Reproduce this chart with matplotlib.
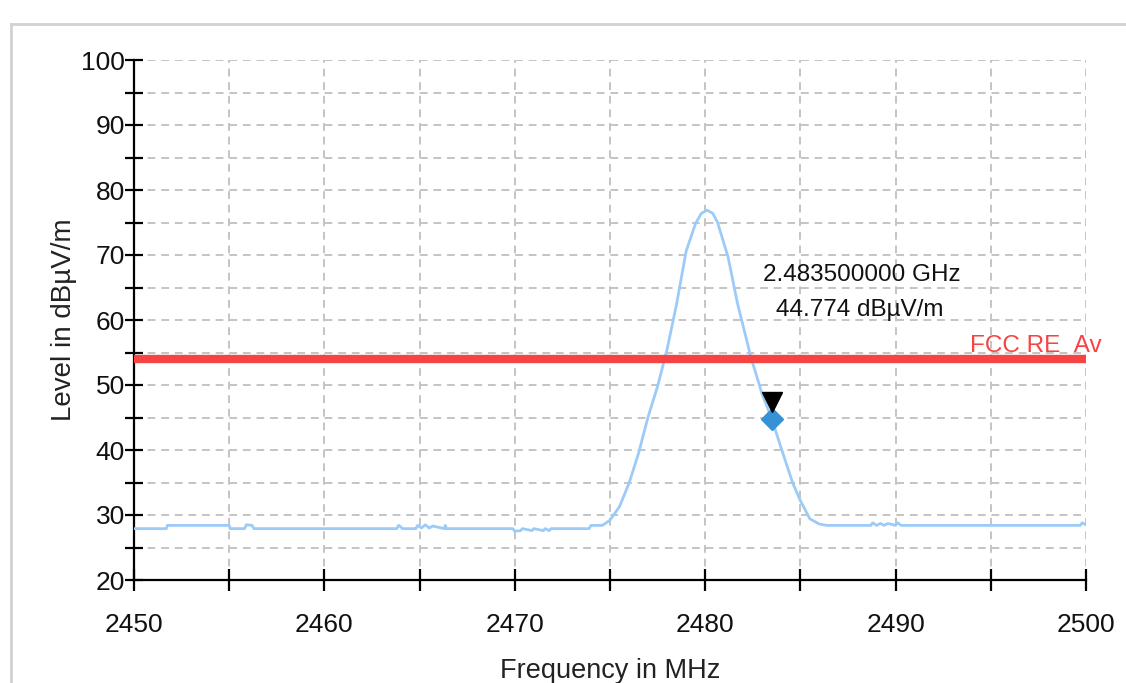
import matplotlib
matplotlib.use("Agg")
import matplotlib.pyplot as plt
from matplotlib.ticker import MultipleLocator
from matplotlib.lines import Line2D
import matplotlib.transforms as mtransforms

plt.rcParams['font.family'] = ['Liberation Sans', 'DejaVu Sans']

# ---- data ----
freq_mhz = [2450.0, 2451.7, 2451.75, 2455.0, 2455.05, 2455.8, 2455.9, 2456.2, 2456.3,
            2463.8, 2463.9, 2464.0, 2464.1, 2464.8, 2464.9, 2465.1, 2465.3, 2465.5,
            2465.7, 2466.3, 2466.35, 2466.4, 2469.9, 2470.0, 2470.3, 2470.4, 2470.9,
            2471.0, 2471.5, 2471.6, 2471.8, 2471.9, 2473.9, 2474.0, 2474.6, 2475.0,
            2475.5, 2476.0, 2476.5, 2477.0, 2477.5, 2478.0, 2478.5, 2479.0, 2479.5,
            2479.8, 2480.1, 2480.4, 2480.65, 2481.2, 2481.7, 2482.4, 2483.0, 2483.5,
            2484.0, 2484.6, 2485.0, 2485.5, 2486.0, 2486.4, 2488.7, 2488.8, 2489.0,
            2489.2, 2489.4, 2489.6, 2490.0, 2490.1, 2490.3, 2499.7, 2499.8, 2500.0]
level_dbuv = [27.9, 27.9, 28.4, 28.4, 27.9, 27.9, 28.5, 28.4, 27.9,
              27.9, 28.4, 28.2, 27.9, 27.9, 28.4, 28.0, 28.5, 28.0,
              28.3, 27.9, 28.4, 27.9, 27.9, 27.5, 27.6, 27.9, 27.6,
              27.9, 27.6, 27.9, 27.6, 27.9, 27.9, 28.4, 28.4, 29.2,
              31.3, 34.9, 39.5, 45.1, 49.8, 55.5, 62.5, 70.6, 74.9,
              76.4, 76.9, 76.4, 75.0, 69.7, 62.5, 54.3, 48.5, 44.774,
              40.2, 34.9, 32.2, 29.4, 28.6, 28.4, 28.4, 28.8, 28.4,
              28.7, 28.4, 28.7, 28.4, 28.8, 28.4, 28.4, 28.8, 28.5]

limit_freq = [2450.0, 2500.0]
limit_level = [54.0, 54.0]
limit_name = "FCC RE_Av"

marker_freq_ghz = 2.4835
marker_level = 44.774

x_major = [2450, 2460, 2470, 2480, 2490, 2500]
y_major = [20, 30, 40, 50, 60, 70, 80, 90, 100]

# ---- figure ----
fig = plt.figure(figsize=(11.26, 6.83), dpi=100)
ax = fig.add_axes([134/1126, 1 - 580/683, (1086 - 134)/1126, (580 - 60)/683])

ax.set_xlim(2450, 2500)
ax.set_ylim(20, 100)
ax.set_xticks(x_major)
ax.set_yticks(y_major)
ax.xaxis.set_minor_locator(MultipleLocator(5))
ax.yaxis.set_minor_locator(MultipleLocator(5))

ax.grid(which='both', color='#c4c4c4', linestyle=(0, (4, 3)), linewidth=1.4)
ax.set_axisbelow(True)

for s in ['top', 'right']:
    ax.spines[s].set_visible(False)
for s in ['left', 'bottom']:
    ax.spines[s].set_linewidth(1.6)
    ax.spines[s].set_color('black')

ax.tick_params(axis='both', which='both', direction='inout', width=1.6, colors='black')
ax.tick_params(axis='y', which='both', length=13)
ax.tick_params(axis='x', which='both', length=16)
ax.tick_params(axis='both', which='major', labelsize=19, labelcolor='#111111')
ax.tick_params(axis='x', which='major', pad=16)
ax.tick_params(axis='y', which='major', pad=0)

# trace
ax.plot(freq_mhz, level_dbuv, color='#9ccbf7', linewidth=2.0, zorder=3)

# limit line
ax.plot(limit_freq, limit_level, color='#f64343', linewidth=6.0, zorder=4,
        solid_capstyle='butt')
ax.text(limit_freq[-1] + 0.8, limit_level[-1] + 1.1, limit_name, color='#f64343',
        fontsize=17.5, ha='right', va='baseline', clip_on=False, zorder=5)

# marker
mf = marker_freq_ghz * 1000
ax.plot([mf], [marker_level], marker='D', markersize=11, color='#3592d6',
        markeredgecolor='#3592d6', zorder=6, clip_on=False)
off = mtransforms.ScaledTranslation(0, 12 / 72, fig.dpi_scale_trans)
ax.plot([mf], [marker_level], marker='v', markersize=15, color='black',
        transform=ax.transData + off, zorder=7, clip_on=False)

ax.text(2488.2, 66.0, f"{marker_freq_ghz:.9f} GHz", fontsize=17.5,
        ha='center', va='baseline', color='#111111', zorder=8)
ax.text(2488.1, 60.6, f"{marker_level:.3f} dBµV/m", fontsize=17.5,
        ha='center', va='baseline', color='#111111', zorder=8)

ax.set_xlabel("Frequency in MHz", fontsize=19.5, color='#222222', labelpad=15)
ax.set_ylabel("Level in dBµV/m", fontsize=20, color='#222222', labelpad=3)

# outer frame
fig.add_artist(Line2D([11/1126, 11/1126], [0, 1 - 24/683], transform=fig.transFigure,
                      color='#d2d2d2', linewidth=2))
fig.add_artist(Line2D([11/1126, 1], [1 - 24/683, 1 - 24/683], transform=fig.transFigure,
                      color='#d2d2d2', linewidth=2))

fig.savefig("out.png", dpi=100)
